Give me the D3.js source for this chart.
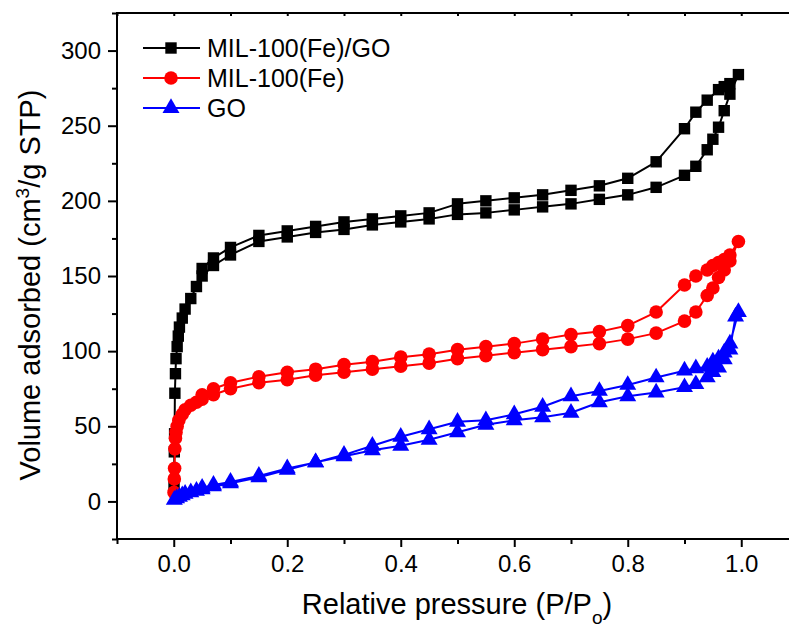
<!DOCTYPE html>
<html>
<head>
<meta charset="utf-8">
<script src="https://cdn.jsdelivr.net/npm/d3@7"></script>
<style>
  body { margin: 0; background: #fff; }
  svg text { font-family: "Liberation Sans", Arial, sans-serif; fill: #000; }
</style>
</head>
<body>
<div id="the_chart"></div>
<script>
// series names
var seriesNames = ["MIL-100(Fe)/GO", "MIL-100(Fe)", "GO"];
var seriesColors = ["#000000", "#ff0000", "#0000ff"];

// MIL-100(Fe)/GO : adsorption then desorption
var goMilP = [0.0005, 0.001, 0.0015, 0.002, 0.003, 0.004, 0.006, 0.008, 0.01, 0.015, 0.02, 0.03, 0.04, 0.05, 0.07, 0.1,
              0.15, 0.2, 0.25, 0.3, 0.35, 0.4, 0.45, 0.5, 0.55, 0.6, 0.65, 0.7, 0.75, 0.8, 0.85, 0.9, 0.92, 0.94, 0.95, 0.96, 0.97, 0.98, 0.995,
              0.98, 0.97, 0.96, 0.94, 0.92, 0.9, 0.85, 0.8, 0.75, 0.7, 0.65, 0.6, 0.55, 0.5, 0.45, 0.4, 0.35, 0.3, 0.25, 0.2, 0.15, 0.1, 0.07, 0.05];
var goMilV = [10, 33, 45, 72, 85, 95, 103, 110, 116, 122, 128, 135, 143, 150, 157, 164,
              173, 176, 179, 181, 184, 186, 188, 191, 192, 194, 196, 198, 201, 204, 209, 217, 223, 234, 241, 249, 260, 271, 284,
              278, 276, 274, 267, 259, 248, 226, 215, 210, 207, 204, 202, 200, 198, 192, 190, 188, 186, 183, 180, 177, 169, 162, 155];

// MIL-100(Fe)
var milP = [0.0005, 0.001, 0.0015, 0.002, 0.003, 0.004, 0.006, 0.009, 0.015, 0.02, 0.03, 0.04, 0.05, 0.07, 0.1,
            0.15, 0.2, 0.25, 0.3, 0.35, 0.4, 0.45, 0.5, 0.55, 0.6, 0.65, 0.7, 0.75, 0.8, 0.85, 0.9, 0.92, 0.94, 0.95, 0.96, 0.97, 0.98, 0.995,
            0.98, 0.97, 0.96, 0.95, 0.94, 0.92, 0.9, 0.85, 0.8, 0.75, 0.7, 0.65, 0.6, 0.55, 0.5, 0.45, 0.4, 0.35, 0.3, 0.25, 0.2, 0.15, 0.1, 0.07, 0.05];
var milV = [6, 15, 22, 35, 42, 46, 50, 54, 58, 61, 64, 66, 68, 71, 75,
            79, 81, 84, 86, 88, 90, 92, 95, 97, 99, 101, 103, 105, 108, 112, 120, 126, 137, 142, 149, 154, 160, 173,
            164, 161, 159, 157, 154, 150, 144, 126, 117, 113, 111, 108, 105, 103, 101, 98, 96, 93, 91, 88, 86, 83, 79, 75, 71];

// GO
var goP = [0.001, 0.005, 0.01, 0.015, 0.02, 0.03, 0.04, 0.05, 0.07, 0.1,
           0.15, 0.2, 0.25, 0.3, 0.35, 0.4, 0.45, 0.5, 0.55, 0.6, 0.65, 0.7, 0.75, 0.8, 0.85, 0.9, 0.92, 0.94, 0.95, 0.96, 0.97, 0.98, 0.99,
           0.995, 0.98, 0.97, 0.96, 0.95, 0.94, 0.92, 0.9, 0.85, 0.8, 0.75, 0.7, 0.65, 0.6, 0.55, 0.5, 0.45, 0.4, 0.35, 0.3, 0.25, 0.2, 0.15, 0.1, 0.07, 0.05];
var goV = [1, 2, 3, 4, 5, 6, 7, 8, 10, 12,
           16, 21, 26, 30, 34, 37, 41, 46, 51, 54, 56, 59, 66, 70, 72.5, 76, 78, 82.5, 86, 89, 94.5, 101, 123,
           126, 105, 99, 95, 93, 89.5, 88.5, 87, 82.5, 77.5, 73.5, 70, 63, 58, 54, 53, 48, 43, 37, 31, 26, 22, 17, 13, 11, 9];

var xTicks = [0.0, 0.2, 0.4, 0.6, 0.8, 1.0];
var xMinor = [-0.1, 0.1, 0.3, 0.5, 0.7, 0.9, 1.1];
var yTicks = [0, 50, 100, 150, 200, 250, 300];
var yMinor = [-25, 25, 75, 125, 175, 225, 275, 325];

var w = 789, h = 627;
var padL = 117, padT = 13, padR = 798, padB = 539;

var svg = d3.select("#the_chart").append("svg")
    .attr("width", w).attr("height", h);

var xscale = d3.scaleLinear().domain([-0.1, 1.1]).range([padL, padR]);
var yscale = d3.scaleLinear().domain([-25, 325]).range([padB, padT]);

// axes
var xaxis = d3.axisBottom(xscale).tickValues(xTicks).tickSize(8).tickPadding(8)
    .tickFormat(d3.format(".1f"));
var xaxisMinor = d3.axisBottom(xscale).tickValues(xMinor).tickSize(5).tickFormat("");
var yaxis = d3.axisLeft(yscale).tickValues(yTicks).tickSize(9).tickPadding(7);
var yaxisMinor = d3.axisLeft(yscale).tickValues(yMinor).tickSize(5).tickFormat("");
var xTop = d3.axisBottom(xscale).tickValues(xTicks.concat(xMinor)).tickSize(3).tickFormat("");

function styleAxis(g) {
    g.select(".domain").remove();
    g.selectAll("line").attr("stroke", "#000").attr("stroke-width", 2);
    g.selectAll("text").style("font-size", "24px").attr("fill", "#000");
}

svg.append("g").attr("transform", "translate(0," + padB + ")").call(xaxisMinor).call(styleAxis);
svg.append("g").attr("transform", "translate(0," + padB + ")").call(xaxis).call(styleAxis);
svg.append("g").attr("transform", "translate(" + padL + ",0)").call(yaxisMinor).call(styleAxis);
svg.append("g").attr("transform", "translate(" + padL + ",0)").call(yaxis).call(styleAxis);
svg.append("g").attr("transform", "translate(0," + padT + ")").call(xTop).call(styleAxis);

// frame
svg.append("path")
    .attr("d", "M" + padL + "," + padT + "H" + padR + "M" + padL + "," + (padT - 1) + "V" + (padB + 1) + "M" + (padL - 1) + "," + padB + "H" + padR)
    .attr("stroke", "#000").attr("stroke-width", 2).attr("fill", "none");

// axis titles
var xt = svg.append("text").attr("x", 457).attr("y", 614).attr("text-anchor", "middle").style("font-size", "29px");
xt.append("tspan").text("Relative pressure (P/P");
xt.append("tspan").attr("dy", 10).style("font-size", "19px").text("o");
xt.append("tspan").attr("dy", -10).text(")");

var yt = svg.append("text").attr("transform", "translate(40,285) rotate(-90)").attr("text-anchor", "middle").style("font-size", "29px");
yt.append("tspan").text("Volume adsorbed (cm");
yt.append("tspan").attr("dy", -11).style("font-size", "19px").text("3");
yt.append("tspan").attr("dy", 11).text("/g STP)");

// data series
var series = [
    {name: seriesNames[0], color: seriesColors[0], shape: d3.symbolSquare, size: 130, p: goMilP, v: goMilV},
    {name: seriesNames[1], color: seriesColors[1], shape: d3.symbolCircle, size: 145, p: milP, v: milV},
    {name: seriesNames[2], color: seriesColors[2], shape: d3.symbolTriangle, size: 125, p: goP, v: goV}
];

var line = d3.line().x(function(d) { return xscale(d[0]); }).y(function(d) { return yscale(d[1]); });

series.forEach(function(s) {
    var pts = s.p.map(function(p, i) { return [p, s.v[i]]; });
    var g = svg.append("g");
    g.append("path").datum(pts).attr("d", line)
        .attr("fill", "none").attr("stroke", s.color).attr("stroke-width", 2).attr("stroke-linejoin", "round");
    g.selectAll("path.mk").data(pts).enter().append("path").attr("class", "mk")
        .attr("d", d3.symbol().type(s.shape).size(s.size))
        .attr("transform", function(d) { return "translate(" + xscale(d[0]) + "," + yscale(d[1]) + ")"; })
        .attr("fill", s.color);
});

// legend
var legend = svg.append("g");
series.forEach(function(s, i) {
    var ly = 48 + i * 30;
    legend.append("line").attr("x1", 143).attr("x2", 200).attr("y1", ly).attr("y2", ly)
        .attr("stroke", s.color).attr("stroke-width", 2);
    legend.append("path").attr("d", d3.symbol().type(s.shape).size(s.size))
        .attr("transform", "translate(171," + ly + ")").attr("fill", s.color);
    legend.append("text").attr("x", 207).attr("y", ly + 9).style("font-size", "25px").text(s.name);
});
</script>
</body>
</html>
